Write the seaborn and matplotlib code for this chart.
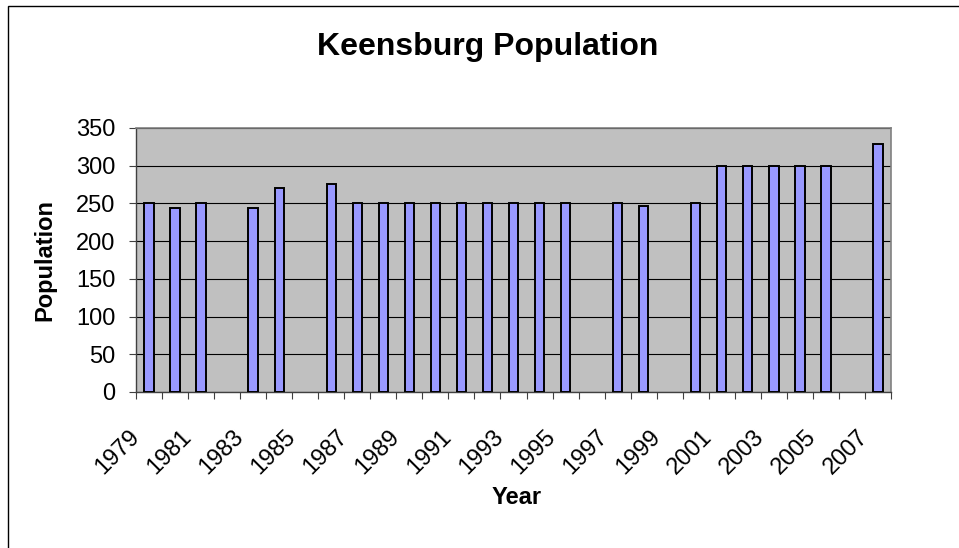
import numpy as np
import pandas as pd
import seaborn as sns
import matplotlib.pyplot as plt
from matplotlib.patches import Rectangle
from matplotlib.transforms import ScaledTranslation

# Data (NaN = no bar that year)
years = [1979, 1980, 1981, 1982, 1983, 1984, 1985, 1986, 1987, 1988,
         1989, 1990, 1991, 1992, 1993, 1994, 1995, 1996, 1997, 1998,
         1999, 2000, 2001, 2002, 2003, 2004, 2005, 2006, 2007]
population = [250, 244, 250, np.nan, 244, 270, np.nan, 276, 250, 250,
              250, 250, 250, 250, 250, 250, 250, np.nan, 250, 246,
              np.nan, 250, 300, 300, 300, 300, 300, np.nan, 329]
y_ticks = [0, 50, 100, 150, 200, 250, 300, 350]

df = pd.DataFrame({"Year": [str(y) for y in years], "Population": population})
order = [str(y) for y in years]

sns.set_theme(style="white", rc={"text.color": "black", "axes.labelcolor": "black",
                                 "xtick.color": "black", "ytick.color": "black"})
plt.rcParams['font.family'] = ['Liberation Sans', 'DejaVu Sans']

fig = plt.figure(figsize=(9.59, 5.48), dpi=100)
ax = fig.add_axes([136 / 959, 1 - 392 / 548, 755 / 959, 264 / 548])

sns.barplot(data=df, x="Year", y="Population", order=order, color="#9999FF",
            saturation=1, width=0.36, edgecolor="black", linewidth=1.4, ax=ax, zorder=3)

ax.set_facecolor("#C0C0C0")
ax.set_xlim(-0.5, len(years) - 0.5)
ax.set_ylim(0, 350)
ax.set_yticks(y_ticks)
ax.yaxis.grid(True, color="black", linewidth=0.8)
ax.set_axisbelow(True)

for side in ["top", "right"]:
    ax.spines[side].set_color("#808080")
    ax.spines[side].set_linewidth(1.2)
for side in ["left", "bottom"]:
    ax.spines[side].set_color("#404040")
    ax.spines[side].set_linewidth(1.0)

# labels on every other year, tick marks at category boundaries
ax.set_xticks(range(0, len(years), 2))
ax.set_xticklabels([str(y) for y in years[::2]], rotation=45, ha="right",
                   va="center", rotation_mode="anchor", fontsize=17)
ax.set_xticks(np.arange(-0.5, len(years), 1), minor=True)
ax.tick_params(axis="x", which="major", length=0, pad=30)
ax.tick_params(axis="x", which="minor", length=5, width=0.8, color="#404040", bottom=True)
ax.tick_params(axis="y", length=5, width=0.8, color="#404040", left=True, pad=10, labelsize=17)
offset = ScaledTranslation(-0.13, 0, fig.dpi_scale_trans)
for lbl in ax.get_xticklabels():
    lbl.set_transform(lbl.get_transform() + offset)

ax.set_xlabel("")
ax.set_ylabel("")
fig.text(517 / 959, 1 - 498 / 548, "Year", ha="center", va="center",
         fontsize=17, fontweight="bold")
fig.text(45 / 959, 1 - 260 / 548, "Population", ha="center", va="center",
         rotation=90, fontsize=17, fontweight="bold")
fig.text(488 / 959, 1 - 47 / 548, "Keensburg Population", ha="center", va="center",
         fontsize=23, fontweight="bold")

# chart frame (only left and top edges fall inside the picture)
fig.patches.append(Rectangle((8 / 959, -0.1), 1.2, 1.1 - 6 / 548, transform=fig.transFigure,
                             fill=False, edgecolor="black", linewidth=1.0))

fig.savefig("out.png", dpi=100)
